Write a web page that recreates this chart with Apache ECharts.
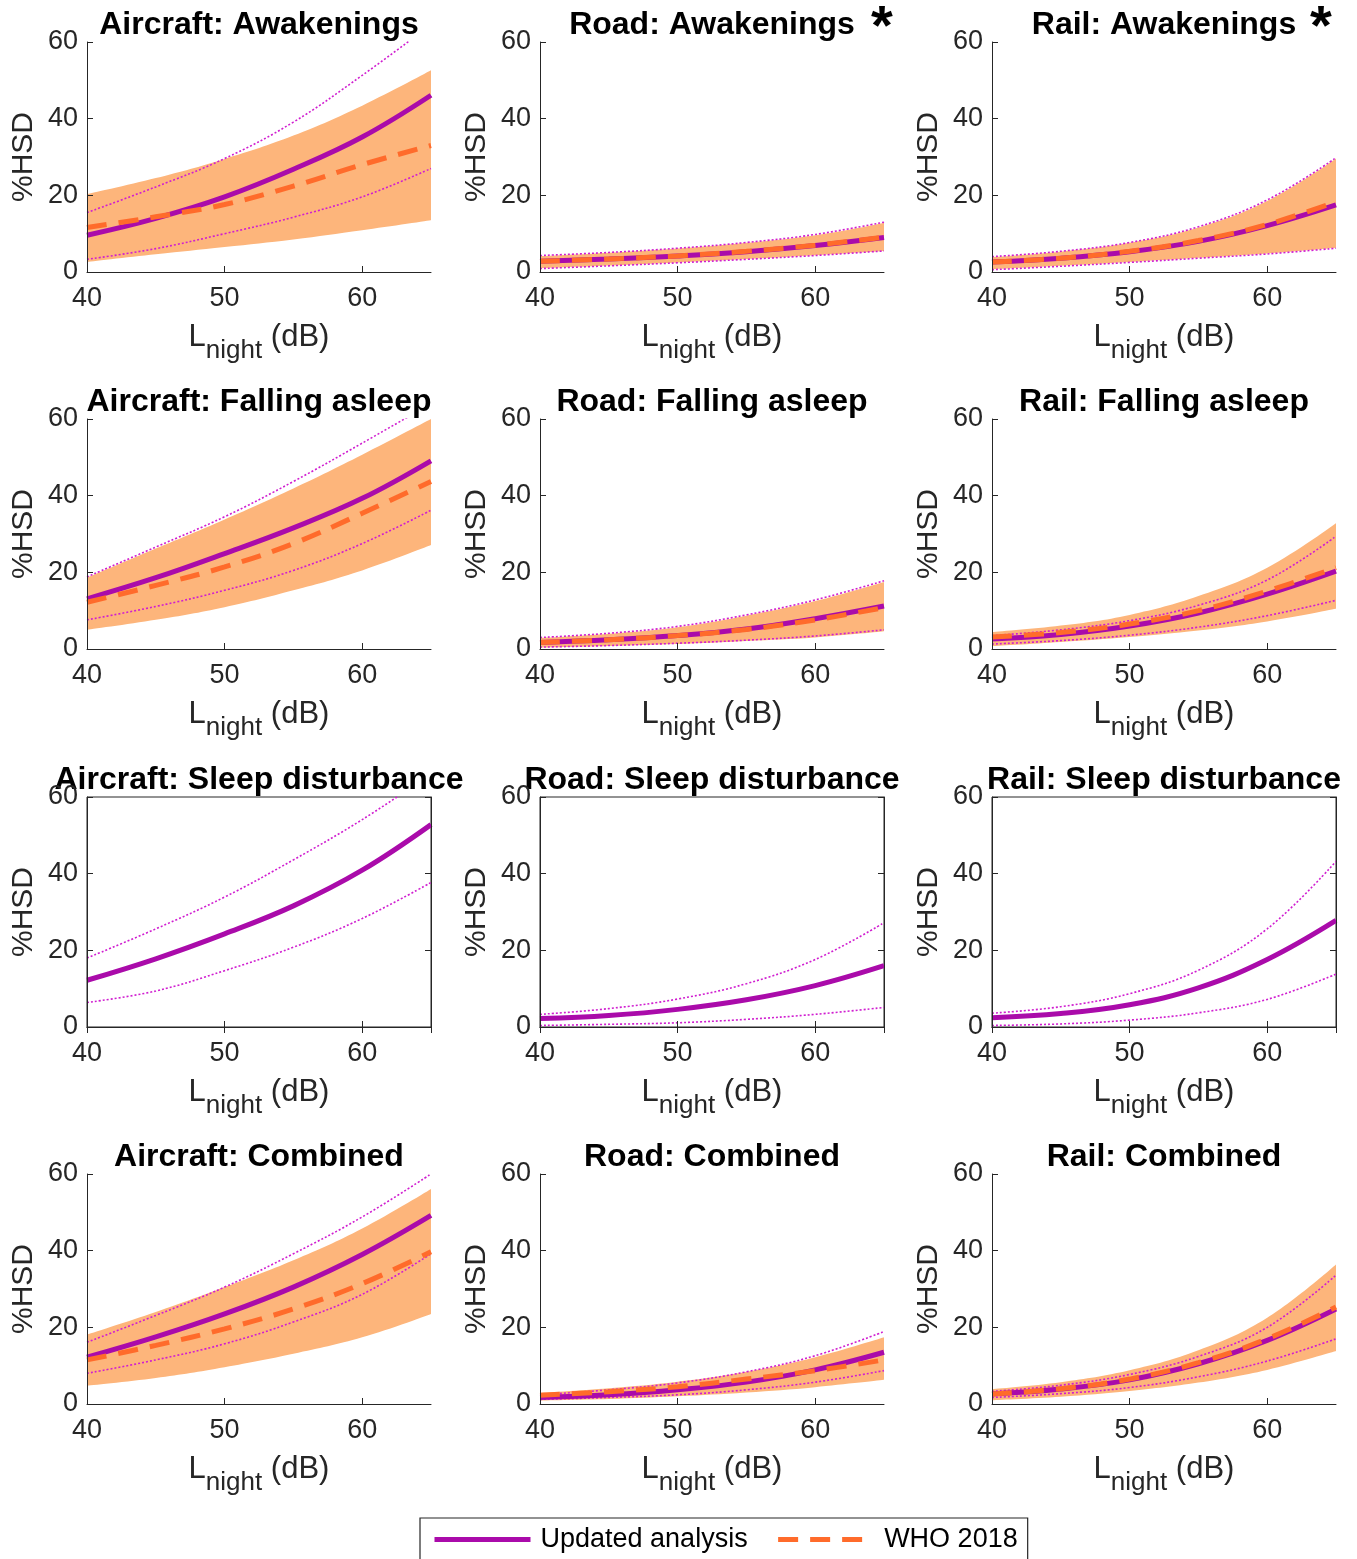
<!DOCTYPE html>
<html>
<head>
<meta charset="utf-8">
<title>%HSD vs Lnight</title>
<script src="https://cdn.jsdelivr.net/npm/echarts@6/dist/echarts.min.js"></script>
<style>
html, body { margin: 0; padding: 0; background: #fff; }
#main { width: 1357px; height: 1559px; }
</style>
</head>
<body>
<div id="main"></div>
<script>
var chart = echarts.init(document.getElementById('main'));

var lnight = [40, 45, 50, 55, 60, 65];
var yTicks = [0, 20, 40, 60];
var sources = ['Aircraft', 'Road', 'Rail'];
var outcomes = ['Awakenings', 'Falling asleep', 'Sleep disturbance', 'Combined'];

// Awakenings
var airAwakUpd   = [9.6, 14.0, 19.6, 26.8, 35.2, 46.1];
var airAwakLo    = [3.3, 6.1, 10.0, 14.3, 19.6, 27.0];
var airAwakHi    = [15.5, 22.2, 29.6, 39.1, 51.3, 64.5];
var airAwakWho   = [11.6, 14.4, 17.6, 22.4, 28.0, 33.0];
var airAwakWhoLo = [2.6, 4.6, 6.5, 8.5, 10.9, 13.5];
var airAwakWhoHi = [20.3, 24.5, 29.5, 35.6, 43.4, 52.6];

var roadAwakUpd   = [2.8, 3.4, 4.2, 5.3, 6.9, 9.0];
var roadAwakLo    = [0.9, 1.6, 2.4, 3.3, 4.3, 5.5];
var roadAwakHi    = [4.3, 5.1, 6.2, 7.7, 9.8, 13.0];
var roadAwakWho   = [2.8, 3.4, 4.2, 5.4, 7.0, 9.1];
var roadAwakWhoLo = [1.0, 1.7, 2.5, 3.4, 4.4, 5.5];
var roadAwakWhoHi = [4.1, 5.0, 6.1, 7.6, 9.6, 12.8];

var railAwakUpd   = [2.6, 3.6, 5.3, 8.0, 12.1, 17.5];
var railAwakLo    = [0.6, 1.5, 2.5, 3.6, 4.7, 6.2];
var railAwakHi    = [4.0, 5.4, 7.7, 11.8, 18.8, 29.8];
var railAwakWho   = [2.6, 3.6, 5.4, 8.2, 12.4, 18.3];
var railAwakWhoLo = [0.7, 1.6, 2.6, 3.7, 4.8, 6.3];
var railAwakWhoHi = [3.9, 5.3, 7.6, 11.6, 18.5, 29.6];

// Falling asleep
var airFallUpd   = [13.1, 18.6, 24.9, 31.6, 39.3, 49.1];
var airFallLo    = [7.6, 11.1, 15.3, 20.5, 27.5, 36.2];
var airFallHi    = [18.8, 26.6, 34.5, 43.7, 53.7, 64.0];
var airFallWho   = [12.2, 16.6, 21.4, 27.5, 35.4, 43.7];
var airFallWhoLo = [5.0, 7.6, 10.9, 15.3, 20.5, 27.1];
var airFallWhoHi = [18.6, 26.2, 33.8, 41.9, 50.7, 60.0];

var roadFallUpd   = [1.7, 2.4, 3.5, 5.2, 7.9, 11.2];
var roadFallLo    = [0.5, 0.9, 1.5, 2.3, 3.4, 5.0];
var roadFallHi    = [3.0, 4.1, 5.9, 8.9, 12.8, 17.8];
var roadFallWho   = [1.7, 2.4, 3.5, 5.1, 7.6, 10.8];
var roadFallWhoLo = [0.4, 0.8, 1.3, 2.1, 3.0, 4.6];
var roadFallWhoHi = [2.9, 4.0, 5.7, 8.7, 12.5, 17.5];

var railFallUpd   = [2.6, 3.8, 6.0, 9.4, 14.3, 20.3];
var railFallLo    = [1.3, 2.2, 3.6, 5.7, 8.7, 12.7];
var railFallHi    = [3.5, 5.0, 7.4, 11.4, 18.0, 29.4];
var railFallWho   = [3.1, 4.3, 6.5, 10.0, 15.1, 21.2];
var railFallWhoLo = [0.7, 1.8, 3.1, 4.8, 7.2, 10.5];
var railFallWhoHi = [4.4, 6.1, 8.9, 13.8, 21.2, 32.8];

// Sleep disturbance (no WHO curve)
var airSdUpd = [12.2, 17.8, 24.3, 31.6, 40.9, 52.8];
var airSdLo  = [6.4, 9.4, 14.7, 20.8, 28.3, 37.7];
var airSdHi  = [18.0, 25.6, 33.9, 43.6, 54.1, 66.0];

var roadSdUpd = [2.2, 3.0, 4.6, 7.1, 10.8, 16.0];
var roadSdLo  = [0.4, 0.7, 1.1, 2.0, 3.3, 5.1];
var roadSdHi  = [3.3, 4.8, 7.3, 11.3, 17.6, 27.2];

var railSdUpd = [2.4, 3.5, 5.8, 10.2, 17.6, 27.8];
var railSdLo  = [0.4, 0.8, 1.8, 3.7, 7.2, 13.8];
var railSdHi  = [3.6, 5.3, 8.7, 14.8, 25.6, 43.2];

// Combined
var airCombUpd   = [12.2, 17.5, 23.5, 30.5, 39.0, 49.2];
var airCombLo    = [8.0, 11.5, 15.7, 21.4, 28.6, 39.2];
var airCombHi    = [16.1, 23.1, 30.5, 39.2, 48.8, 60.0];
var airCombWho   = [11.5, 15.3, 19.6, 24.8, 31.4, 39.7];
var airCombWhoLo = [4.8, 6.8, 9.6, 13.1, 17.4, 23.5];
var airCombWhoHi = [18.1, 24.0, 30.5, 37.5, 45.8, 56.1];

var roadCombUpd   = [1.7, 2.4, 3.7, 5.7, 8.9, 13.5];
var roadCombLo    = [1.2, 1.7, 2.4, 3.7, 5.7, 8.7];
var roadCombHi    = [2.4, 3.7, 5.5, 8.4, 12.6, 18.9];
var roadCombWho   = [2.3, 3.2, 4.5, 6.5, 8.7, 11.5];
var roadCombWhoLo = [0.9, 1.3, 2.0, 3.0, 4.4, 6.3];
var roadCombWhoHi = [2.9, 4.1, 5.8, 8.4, 12.2, 17.4];

var railCombUpd   = [2.6, 3.9, 6.3, 10.5, 16.6, 24.8];
var railCombLo    = [1.7, 2.7, 4.3, 7.1, 11.2, 17.0];
var railCombHi    = [3.3, 4.9, 7.7, 12.4, 20.0, 33.6];
var railCombWho   = [2.6, 4.0, 6.5, 10.8, 17.0, 25.3];
var railCombWhoLo = [1.0, 1.9, 3.4, 5.6, 8.9, 13.8];
var railCombWhoHi = [3.9, 5.7, 8.8, 14.0, 22.5, 36.4];

// row-major: outcome rows, source columns
var panels = [
    {upd: airAwakUpd, lo: airAwakLo, hi: airAwakHi, who: airAwakWho, whoLo: airAwakWhoLo, whoHi: airAwakWhoHi},
    {upd: roadAwakUpd, lo: roadAwakLo, hi: roadAwakHi, who: roadAwakWho, whoLo: roadAwakWhoLo, whoHi: roadAwakWhoHi, starX: 882},
    {upd: railAwakUpd, lo: railAwakLo, hi: railAwakHi, who: railAwakWho, whoLo: railAwakWhoLo, whoHi: railAwakWhoHi, starX: 1321},
    {upd: airFallUpd, lo: airFallLo, hi: airFallHi, who: airFallWho, whoLo: airFallWhoLo, whoHi: airFallWhoHi},
    {upd: roadFallUpd, lo: roadFallLo, hi: roadFallHi, who: roadFallWho, whoLo: roadFallWhoLo, whoHi: roadFallWhoHi},
    {upd: railFallUpd, lo: railFallLo, hi: railFallHi, who: railFallWho, whoLo: railFallWhoLo, whoHi: railFallWhoHi},
    {upd: airSdUpd, lo: airSdLo, hi: airSdHi, box: true},
    {upd: roadSdUpd, lo: roadSdLo, hi: roadSdHi, box: true},
    {upd: railSdUpd, lo: railSdLo, hi: railSdHi, box: true},
    {upd: airCombUpd, lo: airCombLo, hi: airCombHi, who: airCombWho, whoLo: airCombWhoLo, whoHi: airCombWhoHi},
    {upd: roadCombUpd, lo: roadCombLo, hi: roadCombHi, who: roadCombWho, whoLo: roadCombWhoLo, whoHi: roadCombWhoHi},
    {upd: railCombUpd, lo: railCombLo, hi: railCombHi, who: railCombWho, whoLo: railCombWhoLo, whoHi: railCombWhoHi}
];

var colLeft = [87, 540, 992];
var rowTop = [42, 419, 797, 1174];
var plotW = 344, plotH = 230;

var axisColor = '#262626';
var purple = '#AA0BAA';
var dotPurple = '#D01ED0';
var orange = '#FF6B2B';
var bandColor = '#FDB57B';
var font = 'Liberation Sans';

function pairs(ys) {
    return lnight.map(function (x, i) { return [x, ys[i]]; });
}

var grids = [], xAxes = [], yAxes = [], series = [], graphics = [];

panels.forEach(function (p, i) {
    var r = Math.floor(i / 3), c = i % 3;
    grids.push({
        left: colLeft[c], top: rowTop[r], width: plotW, height: plotH,
        show: !!p.box, borderColor: axisColor, borderWidth: 1, backgroundColor: 'transparent'
    });
    var xi = xAxes.length, yi = yAxes.length;
    xAxes.push({
        type: 'value', gridIndex: i, min: 40, max: 65, interval: 10, z: 5,
        axisLine: {show: true, lineStyle: {color: axisColor, width: 1}},
        axisTick: {show: true, inside: true, length: 6, lineStyle: {color: axisColor}},
        axisLabel: {show: true, showMaxLabel: false, margin: 13, color: axisColor, fontSize: 27, fontFamily: font},
        splitLine: {show: false},
        name: '{a|L}{b|night}{a| (dB)}',
        nameLocation: 'middle', nameGap: 38,
        nameTextStyle: {
            color: axisColor, fontFamily: font,
            rich: {
                a: {fontSize: 31, color: axisColor, fontFamily: font},
                b: {fontSize: 26, color: axisColor, fontFamily: font, padding: [28, 0, 0, 0]}
            }
        }
    });
    yAxes.push({
        type: 'value', gridIndex: i, min: 0, max: 60, interval: 20, z: 5,
        axisLine: {show: true, lineStyle: {color: axisColor, width: 1}},
        axisTick: {show: true, inside: true, length: 6, lineStyle: {color: axisColor}},
        axisLabel: {margin: 9, color: axisColor, fontSize: 27, fontFamily: font},
        splitLine: {show: false},
        name: '%HSD', nameLocation: 'middle', nameRotate: 90, nameGap: 48,
        nameTextStyle: {color: axisColor, fontSize: 30, fontFamily: font}
    });
    if (p.box) {
        // top and right axes for the boxed panels
        xAxes.push({
            type: 'value', gridIndex: i, position: 'top', min: 40, max: 65, interval: 10, z: 5,
            axisLine: {show: true, lineStyle: {color: axisColor}},
            axisTick: {show: true, inside: true, length: 6, lineStyle: {color: axisColor}},
            axisLabel: {show: false}, splitLine: {show: false}
        });
        yAxes.push({
            type: 'value', gridIndex: i, position: 'right', min: 0, max: 60, interval: 20, z: 5,
            axisLine: {show: true, lineStyle: {color: axisColor}},
            axisTick: {show: true, inside: true, length: 6, lineStyle: {color: axisColor}},
            axisLabel: {show: false}, splitLine: {show: false}
        });
    }

    var base = {type: 'line', xAxisIndex: xi, yAxisIndex: yi, symbol: 'none', showSymbol: false, smooth: 0.4, silent: true};

    if (p.whoLo) {
        // WHO confidence band: upper edge filled down to 0, lower edge masked in white
        series.push(Object.assign({}, base, {
            name: 'band-hi', data: pairs(p.whoHi),
            lineStyle: {width: 0, opacity: 0},
            areaStyle: {color: bandColor, opacity: 1, origin: 'start'}
        }));
        series.push(Object.assign({}, base, {
            name: 'band-lo', data: pairs(p.whoLo),
            lineStyle: {width: 0, opacity: 0},
            areaStyle: {color: '#ffffff', opacity: 1, origin: 'start'}
        }));
    }
    series.push(Object.assign({}, base, {
        name: 'ci-lo', data: pairs(p.lo),
        lineStyle: {color: dotPurple, width: 1.6, type: [2, 2]}
    }));
    series.push(Object.assign({}, base, {
        name: 'ci-hi', data: pairs(p.hi),
        lineStyle: {color: dotPurple, width: 1.6, type: [2, 2]}
    }));
    series.push(Object.assign({}, base, {
        name: 'Updated analysis', data: pairs(p.upd),
        itemStyle: {color: purple},
        lineStyle: {color: purple, width: 5}
    }));
    if (p.who) {
        series.push(Object.assign({}, base, {
            name: 'WHO 2018', data: pairs(p.who),
            itemStyle: {color: orange},
            lineStyle: {color: orange, width: 5, type: [20, 12]}
        }));
    }

    var cx = colLeft[c] + plotW / 2;
    graphics.push({
        type: 'text', x: cx, y: rowTop[r] - 17, silent: true,
        style: {
            text: sources[c] + ': ' + outcomes[r],
            font: 'bold 32px "Liberation Sans"', fill: '#000',
            textAlign: 'center', textVerticalAlign: 'middle'
        }
    });
    if (p.starX) {
        graphics.push({
            type: 'text', x: p.starX, y: 1, silent: true,
            style: {
                text: '*', font: 'bold 56px "Liberation Sans"', fill: '#000',
                textAlign: 'center', textVerticalAlign: 'top'
            }
        });
    }
});

var option = {
    animation: false,
    backgroundColor: '#fff',
    grid: grids,
    xAxis: xAxes,
    yAxis: yAxes,
    series: series,
    graphic: graphics,
    legend: {
        data: ['Updated analysis', 'WHO 2018'],
        selectedMode: false,
        left: 420, top: 1518,
        itemWidth: 96, itemHeight: 20, itemGap: 28,
        padding: [8, 10, 16, 12],
        borderColor: axisColor, borderWidth: 1.2, borderRadius: 0,
        backgroundColor: '#fff',
        itemStyle: {opacity: 0},
        lineStyle: {width: 5},
        textStyle: {fontSize: 27, color: '#000', fontFamily: font, padding: [0, 0, 0, 5]}
    }
};

chart.setOption(option);
</script>
</body>
</html>
